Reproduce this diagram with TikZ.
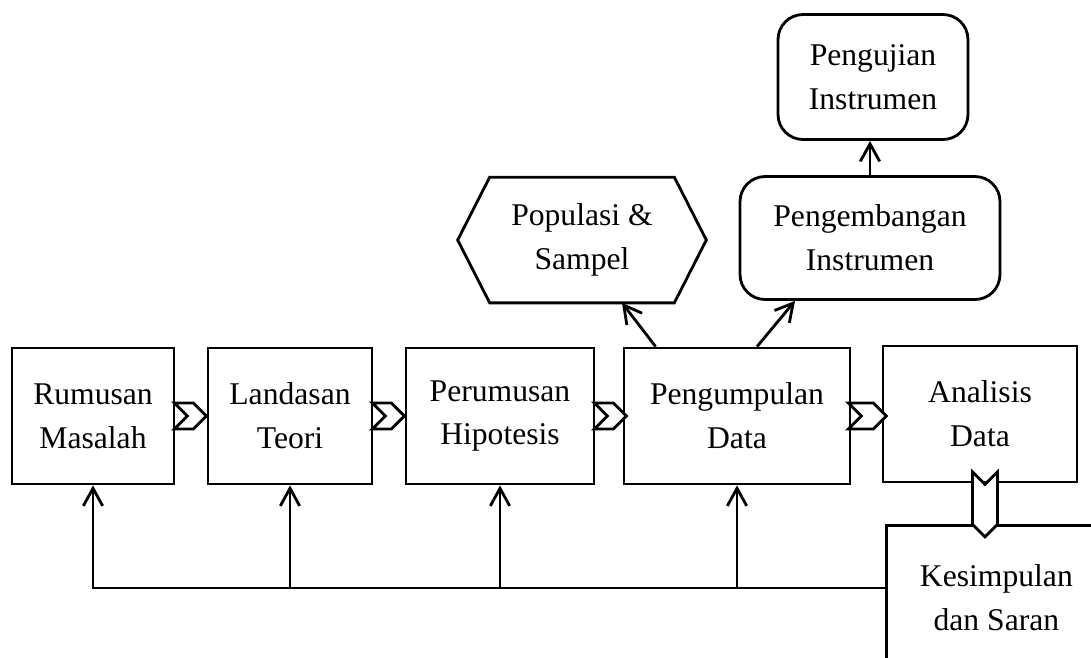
\documentclass[tikz,border=0pt]{standalone}
\usepackage{fontspec}
\setmainfont{Liberation Serif}
\usetikzlibrary{arrows.meta,positioning,shapes.symbols,calc}

\begin{document}
\begin{tikzpicture}[x=0.02cm,y=-0.02cm,
  stepbox/.style={draw,line width=1.6pt,minimum height=2.72cm,inner sep=2pt,
    font=\fontsize{18}{25}\selectfont,align=center},
  roundbox/.style={stepbox,rounded corners=0.5cm,minimum height=2.46cm},
  chev/.style={draw,fill=white,line width=1.6pt,shape=signal,inner sep=0pt,
    signal pointer angle=90,minimum width=0.64cm,minimum height=0.52cm},
  arr/.style={-{Straight Barb[length=10pt,width=11pt,line width=1.6pt]},line width=1.6pt},
  line/.style={line width=1.6pt}
]
  \clip (0,0) rectangle (1091,657);

  % main row
  \node[stepbox,minimum width=3.24cm] (rumusan) at (93,416) {Rumusan\\Masalah};
  \node[stepbox,minimum width=3.28cm] (landasan) at (290,416) {Landasan\\Teori};
  \node[stepbox,minimum width=3.76cm] (hipotesis) at (500,416) {Perumusan\\Hipotesis};
  \node[stepbox,minimum width=4.52cm] (pengumpulan) at (737,416) {Pengumpulan\\Data};
  \node[stepbox,minimum width=3.88cm] (analisis) at (980,414) {Analisis\\Data};
  \node[stepbox,minimum width=4.4cm,minimum height=2.9cm,anchor=north west] (kesimpulan) at (885,524) {Kesimpulan\\dan Saran};

  % upper nodes
  \node[font=\fontsize{18}{25}\selectfont,align=center,minimum width=4.96cm,minimum height=2.5cm] (populasi) at (582,240) {Populasi \&\\Sampel};
  \draw[line] (populasi.west) -- ($(populasi.north west)+(32,0)$) -- ($(populasi.north east)+(-32,0)$)
    -- (populasi.east) -- ($(populasi.south east)+(-32,0)$) -- ($(populasi.south west)+(32,0)$) -- cycle;
  \node[roundbox,minimum width=5.2cm] (pengembangan) at (870,238) {Pengembangan\\Instrumen};
  \node[roundbox,minimum width=3.8cm,minimum height=2.5cm] (pengujian) at (873,77) {Pengujian\\Instrumen};

  % chevrons
  \node[chev,signal to=east,signal from=west] (c1) at ($(rumusan.east)+(15,0)$) {};
  \node[chev,signal to=east,signal from=west] (c2) at ($(landasan.east)+(15,0)$) {};
  \node[chev,signal to=east,signal from=west] (c3) at ($(hipotesis.east)+(15,0)$) {};
  \node[chev,signal to=east,signal from=west,minimum width=0.76cm] (c4) at ($(pengumpulan.east)+(16,0)$) {};
  \node[chev,signal to=south,signal from=north,minimum width=0.5cm,minimum height=0.8cm] (c5) at ($(analisis.south)+(5,21)$) {};

  % arrows up
  \draw[arr] ($(pengumpulan.north west)+(33,0)$) -- ($(populasi.south)+(40,0)$);
  \draw[arr] ($(pengumpulan.north)+(20,0)$) -- ($(pengembangan.south)+(-75,0)$);
  \draw[arr] (pengembangan.north) -- (pengembangan.north |- pengujian.south);

  % feedback line
  \coordinate (fb) at (885,588);
  \draw[arr] (fb) -| (rumusan.south);
  \draw[arr] (landasan.south |- fb) -- (landasan.south);
  \draw[arr] (hipotesis.south |- fb) -- (hipotesis.south);
  \draw[arr] (pengumpulan.south |- fb) -- (pengumpulan.south);
\end{tikzpicture}
\end{document}
